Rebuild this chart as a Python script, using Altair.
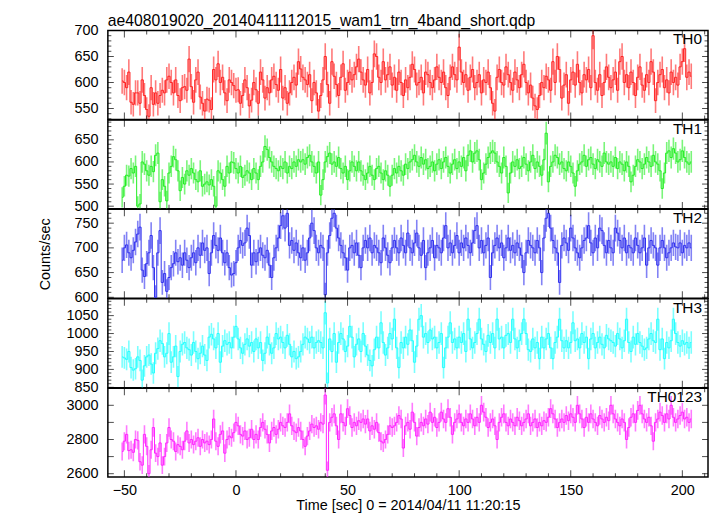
import altair as alt
import pandas as pd
import numpy as np

FONT = "Liberation Sans"
TITLE = "ae408019020_20140411112015_wam1_trn_4band_short.qdp"
X_TITLE = "Time [sec] 0 = 2014/04/11 11:20:15"
Y_TITLE = "Counts/sec"
PANEL_NAMES = ["TH0", "TH1", "TH2", "TH3", "TH0123"]
COLORS = ["#ff2020", "#22ee22", "#2f2fee", "#22ffff", "#ff22ff"]
T_START = -51  # first 1-s bin centre (sec)

TH0 = [603, 600, 590, 620, 562, 558, 580, 580, 560, 605,
       575, 548, 535, 590, 558, 580, 560, 575, 585, 580,
       605, 612, 600, 580, 605, 575, 565, 590, 592, 585,
       645, 592, 562, 605, 620, 572, 560, 545, 568, 566,
       548, 625, 605, 636, 600, 610, 580, 565, 605, 600,
       594, 585, 586, 560, 575, 605, 590, 555, 566, 600,
       586, 560, 620, 605, 570, 590, 580, 605, 612, 596,
       585, 625, 570, 590, 560, 580, 600, 610, 595, 640,
       626, 610, 605, 596, 615, 565, 600, 580, 545, 575,
       605, 650, 596, 560, 640, 612, 596, 575, 610, 636,
       585, 600, 620, 605, 615, 630, 645, 620, 605, 595,
       625, 580, 600, 655, 650, 610, 600, 640, 605, 615,
       630, 595, 610, 585, 620, 600, 575, 605, 590, 610,
       635, 625, 595, 600, 610, 580, 620, 615, 600, 590,
       605, 630, 610, 600, 620, 590, 575, 610, 630, 615,
       605, 668, 620, 600, 615, 585, 610, 625, 590, 600,
       615, 580, 605, 600, 620, 590, 560, 545, 610, 625,
       600, 595, 630, 615, 600, 585, 620, 605, 590, 615,
       635, 600, 580, 595, 570, 555, 548, 575, 600, 590,
       612, 605, 585, 640, 600, 650, 625, 570, 595, 615,
       560, 605, 620, 595, 635, 600, 580, 615, 605, 625,
       590, 690, 600, 585, 615, 575, 600, 630, 610, 590,
       605, 620, 585, 640, 650, 600, 615, 590, 620, 600,
       575, 610, 630, 595, 585, 615, 600, 640, 620, 565,
       600, 615, 625, 590, 605, 580, 620, 600, 610, 595,
       630, 640, 665, 610, 620, 612]

TH1 = [520, 545, 570, 568, 585, 575, 590, 500, 505, 600,
       595, 580, 570, 590, 578, 615, 620, 510, 560, 545,
       512, 575, 590, 612, 605, 580, 535, 565, 550, 580,
       570, 585, 575, 560, 555, 580, 545, 550, 555, 548,
       560, 545, 500, 580, 575, 560, 545, 590, 575, 600,
       598, 585, 575, 590, 565, 570, 580, 575, 560, 585,
       575, 560, 590, 600, 635, 628, 610, 600, 590, 585,
       580, 590, 585, 600, 575, 590, 585, 600, 590, 605,
       600, 605, 595, 610, 615, 600, 590, 575, 600, 525,
       560, 600, 612, 620, 595, 600, 590, 610, 585, 575,
       590, 560, 580, 600, 590, 580, 600, 580, 570, 560,
       575, 590, 570, 560, 585, 590, 575, 560, 580, 570,
       545, 570, 585, 575, 590, 580, 570, 595, 585, 600,
       605, 615, 600, 590, 610, 595, 605, 585, 590, 600,
       580, 595, 605, 585, 600, 610, 590, 575, 595, 605,
       585, 600, 590, 610, 580, 615, 625, 600, 620, 625,
       605, 560, 575, 595, 610, 620, 625, 620, 600, 590,
       575, 610, 590, 530, 575, 600, 590, 605, 585, 590,
       610, 595, 580, 600, 615, 585, 600, 590, 570, 605,
       665, 555, 590, 600, 615, 610, 595, 600, 585, 580,
       600, 590, 575, 545, 580, 595, 600, 615, 590, 605,
       610, 595, 585, 605, 600, 590, 620, 600, 595, 600,
       590, 610, 585, 600, 595, 580, 600, 590, 555, 570,
       590, 605, 600, 585, 595, 610, 600, 590, 615, 600,
       595, 580, 540, 575, 620, 625, 610, 630, 620, 600,
       605, 625, 610, 600, 595, 600]

TH2 = [675, 700, 706, 690, 680, 695, 712, 728, 742, 655,
       642, 668, 690, 725, 660, 600, 690, 735, 630, 648,
       612, 640, 660, 668, 690, 672, 680, 665, 690, 675,
       660, 680, 690, 670, 700, 685, 710, 695, 700, 648,
       690, 725, 705, 695, 720, 690, 670, 690, 660, 645,
       648, 670, 700, 715, 705, 710, 740, 725, 665, 690,
       672, 690, 700, 685, 680, 695, 665, 640, 680, 700,
       720, 745, 765, 740, 770, 705, 715, 695, 710, 690,
       680, 700, 675, 690, 720, 750, 735, 700, 690, 705,
       700, 605, 690, 725, 760, 770, 740, 720, 705, 690,
       680, 655, 700, 705, 690, 710, 685, 660, 700, 715,
       700, 720, 690, 705, 700, 690, 670, 720, 700, 685,
       670, 700, 715, 700, 690, 720, 705, 690, 730, 700,
       690, 710, 730, 700, 685, 715, 660, 690, 700, 715,
       680, 705, 700, 690, 720, 745, 700, 710, 690, 705,
       725, 690, 710, 700, 720, 705, 690, 710, 735, 745,
       700, 715, 690, 705, 720, 640, 690, 705, 720, 700,
       710, 680, 700, 720, 695, 705, 690, 710, 700, 685,
       650, 690, 715, 705, 700, 690, 715, 700, 650, 720,
       760, 770, 740, 715, 700, 690, 630, 705, 720, 710,
       695, 740, 720, 700, 690, 680, 700, 715, 720, 745,
       710, 690, 720, 700, 740, 735, 705, 690, 715, 700,
       690, 740, 730, 715, 700, 720, 690, 705, 700, 690,
       720, 705, 690, 700, 720, 665, 700, 715, 705, 700,
       665, 700, 715, 700, 680, 690, 700, 710, 702, 700,
       710, 690, 705, 700, 710, 700]

TH3 = [935, 932, 928, 950, 905, 898, 902, 935, 925, 870,
       910, 935, 940, 915, 890, 945, 958, 980, 972, 935,
       945, 1000, 920, 935, 965, 880, 950, 970, 975, 960,
       955, 940, 975, 950, 930, 945, 965, 940, 925, 990,
       998, 985, 960, 1000, 920, 965, 980, 970, 975, 960,
       990, 1020, 985, 960, 945, 970, 985, 965, 975, 950,
       985, 960, 975, 925, 945, 990, 970, 945, 960, 1000,
       985, 990, 975, 960, 995, 970, 935, 950, 930, 935,
       950, 970, 990, 985, 975, 990, 960, 975, 980, 975,
       960, 1058, 862, 985, 950, 1000, 920, 975, 1000, 985,
       950, 965, 1020, 990, 935, 970, 985, 950, 1000, 965,
       940, 925, 910, 955, 990, 960, 1030, 975, 940, 960,
       1000, 985, 1040, 960, 905, 975, 960, 990, 970, 1010,
       980, 920, 965, 1040, 1050, 990, 1000, 975, 1010, 985,
       990, 960, 975, 1000, 905, 960, 990, 1030, 975, 985,
       960, 990, 975, 1000, 950, 1040, 985, 960, 975, 1000,
       1040, 985, 970, 950, 995, 975, 1000, 960, 1040, 985,
       990, 960, 995, 1000, 975, 1040, 985, 960, 980, 1000,
       1040, 1000, 955, 950, 985, 960, 975, 930, 990, 960,
       985, 1000, 960, 930, 975, 990, 1040, 980, 960, 980,
       960, 975, 1030, 980, 985, 960, 1000, 975, 990, 930,
       985, 1000, 960, 975, 990, 970, 960, 995, 985, 980,
       975, 965, 1000, 985, 960, 980, 1040, 975, 950, 990,
       970, 1000, 975, 965, 955, 960, 985, 1000, 980, 975,
       1040, 955, 985, 930, 975, 960, 980, 1040, 1000, 975,
       965, 980, 970, 975, 960, 975]

TH0123 = [2730, 2790, 2830, 2735, 2740, 2725, 2800, 2795, 2670, 2650,
          2830, 2760, 2600, 2740, 2870, 2720, 2700, 2780, 2650, 2700,
          2780, 2870, 2800, 2790, 2730, 2770, 2760, 2740, 2790, 2850,
          2780, 2800, 2770, 2790, 2810, 2760, 2800, 2780, 2790, 2770,
          2800, 2920, 2790, 2760, 2830, 2850, 2720, 2800, 2820, 2810,
          2840, 2900, 2880, 2830, 2820, 2850, 2800, 2810, 2860, 2800,
          2830, 2800, 2870, 2900, 2860, 2830, 2780, 2850, 2870, 2830,
          2860, 2900, 2880, 2870, 2900, 2950, 2880, 2850, 2840, 2870,
          2850, 2800, 2760, 2820, 2850, 2890, 2870, 2880, 2860, 2900,
          2890, 3060, 2620, 2900, 2930, 2950, 2880, 2800, 2950, 2900,
          2880, 2980, 2940, 2870, 2900, 2880, 2910, 2900, 2920, 2890,
          2920, 2850, 2880, 2860, 2900, 2840, 2790, 2780, 2800, 2830,
          2880, 2870, 2880, 2900, 2940, 2920, 2750, 2880, 2900, 2860,
          2960, 2900, 2820, 2870, 2900, 2880, 2920, 2890, 2960, 2900,
          2930, 2870, 2900, 2960, 2920, 2900, 2980, 2930, 2830, 2900,
          2920, 2950, 2900, 2880, 2920, 2900, 2950, 2920, 2880, 2930,
          2900, 3000, 2960, 2930, 2870, 2900, 2920, 2880, 2800, 2900,
          2930, 2950, 2900, 2880, 2920, 2900, 2880, 2930, 2910, 2880,
          2900, 2920, 2950, 2880, 2900, 2920, 2870, 2900, 2880, 2910,
          2900, 2930, 2980, 2950, 2920, 2870, 2900, 2920, 2900, 2940,
          2910, 2950, 2930, 2900, 3000, 2950, 2920, 2870, 2930, 2900,
          2950, 2920, 2900, 2880, 2940, 2920, 2900, 2930, 2910, 3000,
          2950, 2920, 2900, 2880, 2920, 2900, 2800, 2870, 2930, 2950,
          2900, 2970, 3000, 2950, 2920, 2900, 2930, 2880, 2790, 2900,
          2920, 2960, 2940, 2900, 2950, 2920, 3000, 2930, 2900, 2920,
          2940, 2960, 2920, 2930, 2900, 2920]

SERIES = [TH0, TH1, TH2, TH3, TH0123]
Y_DOMAINS = [[529, 700], [494, 695], [598, 778], [849, 1097], [2580, 3100]]
Y_LABELS = [[550, 600, 650, 700], [500, 550, 600, 650], [600, 650, 700, 750],
            [850, 900, 950, 1000, 1050], [2600, 2800, 3000]]
Y_MAJOR_STEP = [50, 50, 50, 50, 100]
Y_MINOR_STEP = [10, 10, 10, 10, 100]
X_DOMAIN = [-57.4, 211.5]
X_LABELS = [-50, 0, 50, 100, 150, 200]
X_MAJOR = [-50, 0, 50, 100, 150, 200]
X_MINOR = [v for v in range(-50, 211, 10) if v % 50 != 0]

W, H = 604, 89.5
MAJ, MIN = 7, 4


def tick_values(dom, step):
    start = int(np.ceil(dom[0] / step) * step)
    return [v for v in range(start, int(dom[1]) + 1, step)]


def panel(k):
    vals = np.array(SERIES[k], dtype=float)
    t = [T_START + i for i in range(len(vals))]
    err = np.sqrt(vals)
    df = pd.DataFrame({"t": t, "v": vals, "lo": vals - err, "hi": vals + err})
    xs = alt.Scale(domain=X_DOMAIN, nice=False, zero=False)
    ys = alt.Scale(domain=Y_DOMAINS[k], nice=False, zero=False)
    last = k == len(SERIES) - 1
    if last:
        xaxis = alt.Axis(values=X_LABELS, ticks=False, domain=False, grid=False,
                         labelPadding=6, title=X_TITLE, titlePadding=2,
                         labelFlush=False, labelOverlap=False, format="d")
    else:
        xaxis = None
    yaxis = alt.Axis(values=Y_LABELS[k], ticks=False, domain=False, grid=False,
                     labelPadding=10, labelOverlap=False, labelFlush=False, format="d",
                     title=Y_TITLE if k == 2 else None, titlePadding=22)

    def X(f):
        return alt.X(f, scale=xs, axis=xaxis)

    def Y(f):
        return alt.Y(f, scale=ys, axis=yaxis)

    base = alt.Chart(df)
    bars = base.mark_rule(color=COLORS[k], strokeWidth=1.6, opacity=0.6, clip=True).encode(
        x=X("t:Q"), y=Y("lo:Q"), y2="hi:Q")
    line = base.mark_line(color=COLORS[k], strokeWidth=1, interpolate="step", clip=True).encode(
        x=X("t:Q"), y=Y("v:Q"))

    layers = [bars, line]
    for vals_, L in [(X_MAJOR, MAJ), (X_MINOR, MIN)]:
        d = alt.Chart(pd.DataFrame({"t": vals_}))
        for yy in [H - L / 2, L / 2]:
            layers.append(d.mark_tick(orient="vertical", size=L, thickness=1, color="black").encode(
                x=X("t:Q"), y=alt.value(yy)))
    major_y = tick_values(Y_DOMAINS[k], Y_MAJOR_STEP[k])
    minor_y = [v for v in tick_values(Y_DOMAINS[k], Y_MINOR_STEP[k]) if v not in major_y]
    for vals_, L in [(major_y, MAJ - 1), (minor_y, MIN - 0.5)]:
        if not vals_:
            continue
        d = alt.Chart(pd.DataFrame({"v": vals_}))
        for xx in [L / 2, W - L / 2]:
            layers.append(d.mark_tick(orient="horizontal", size=L, thickness=1, color="black").encode(
                y=Y("v:Q"), x=alt.value(xx)))
    lab = alt.Chart(pd.DataFrame({"name": [PANEL_NAMES[k]]})).mark_text(
        align="right", baseline="middle", fontSize=15.5, font=FONT, color="black").encode(
        text="name:N", x=alt.value(W - 6), y=alt.value(9))
    layers.append(lab)
    if k == 0:
        ttl = alt.Chart(pd.DataFrame({"title": [TITLE]})).mark_text(
            align="left", baseline="alphabetic", fontSize=15.8, font=FONT, color="black").encode(
            text="title:N", x=alt.value(0), y=alt.value(-5))
        layers.append(ttl)
    return alt.layer(*layers).properties(width=W, height=H)


chart = alt.vconcat(*[panel(k) for k in range(len(SERIES))], spacing=0, bounds="flush").properties(
    padding={"left": 28.5, "right": 0, "top": 2, "bottom": 0}
).configure_view(stroke="black", strokeWidth=1.5).configure_axis(
    labelFont=FONT, titleFont=FONT, labelColor="black", titleColor="black",
    labelFontSize=14.5, titleFontSize=14.5, titleFontWeight="normal")

chart.save("out.html", embed_options={"renderer": "svg", "actions": False})
